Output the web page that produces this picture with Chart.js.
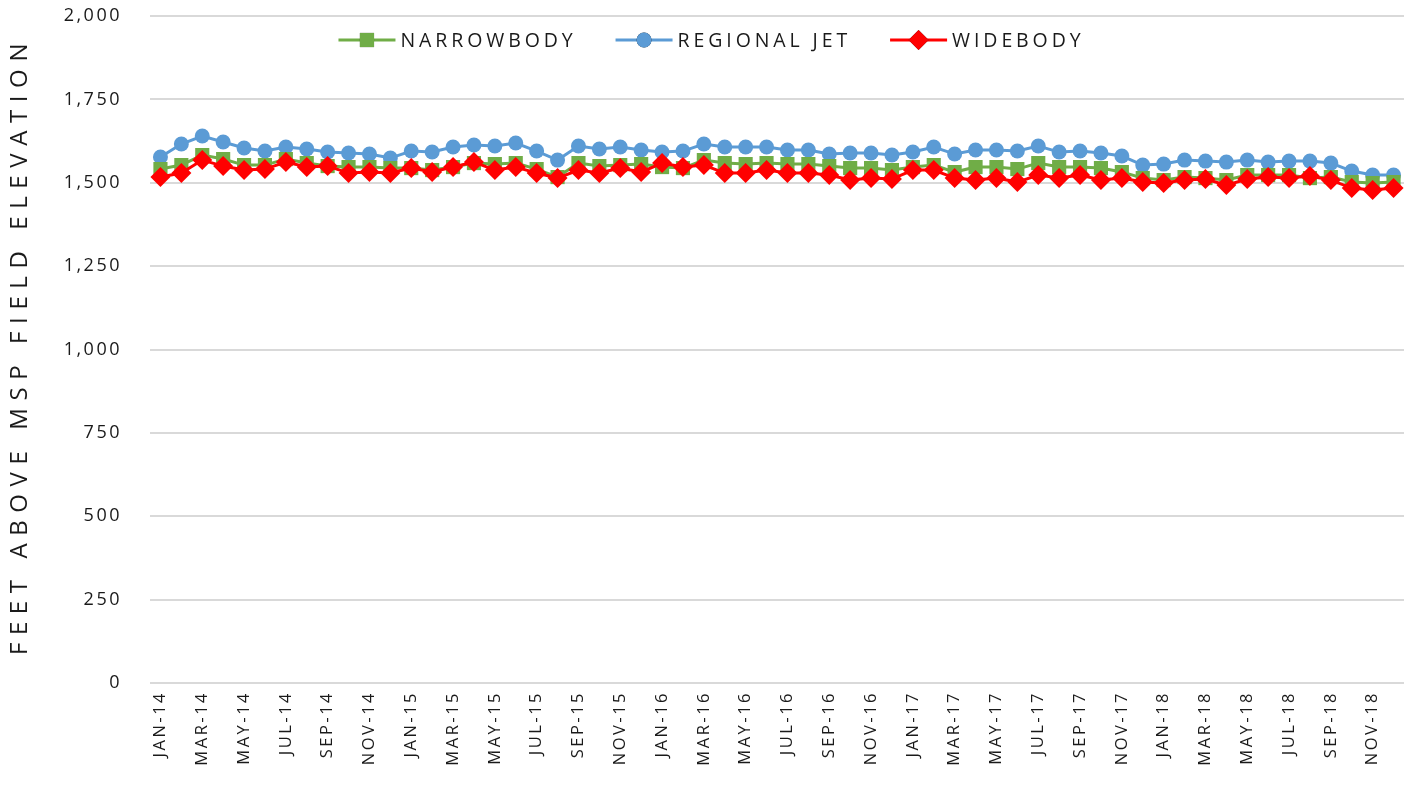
<!DOCTYPE html>
<html>
<head>
<meta charset="utf-8">
<script src="https://cdn.jsdelivr.net/npm/chart.js@4.4.1/dist/chart.umd.min.js"></script>
<style>
  html, body { margin: 0; padding: 0; background: #fff; }
  #wrap { width: 1411px; height: 797px; position: relative; }
</style>
</head>
<body>
<div id="wrap"><canvas id="chart" width="1411" height="797"></canvas></div>
<script>
// months x years -> JAN-14 ... DEC-18
const monthNames = ['JAN', 'FEB', 'MAR', 'APR', 'MAY', 'JUN', 'JUL', 'AUG', 'SEP', 'OCT', 'NOV', 'DEC'];
const years = ['14', '15', '16', '17', '18'];
const categories = [];
years.forEach(y => monthNames.forEach(m => categories.push(`${m}-${y}`)));

const seriesNames = ['NARROWBODY', 'REGIONAL JET', 'WIDEBODY'];
const yTitle = 'FEET ABOVE MSP FIELD ELEVATION';

const narrowbody = [
  1541, 1553, 1583, 1571, 1553, 1553, 1571, 1559, 1550, 1547, 1547, 1544,
  1544, 1538, 1547, 1559, 1556, 1559, 1541, 1517, 1559, 1550, 1553, 1556,
  1547, 1544, 1568, 1559, 1556, 1559, 1556, 1556, 1550, 1544, 1544, 1538,
  1547, 1553, 1532, 1547, 1547, 1541, 1559, 1547, 1547, 1544, 1532, 1514,
  1508, 1517, 1514, 1508, 1523, 1523, 1523, 1514, 1517, 1502, 1499, 1502
];
const regionalJet = [
  1577, 1616, 1640, 1622, 1604, 1595, 1607, 1601, 1592, 1589, 1586, 1574,
  1595, 1592, 1607, 1613, 1610, 1619, 1595, 1568, 1610, 1601, 1607, 1598,
  1592, 1595, 1616, 1607, 1607, 1607, 1598, 1598, 1586, 1589, 1589, 1583,
  1592, 1607, 1586, 1598, 1598, 1595, 1610, 1592, 1595, 1589, 1580, 1553,
  1556, 1568, 1565, 1562, 1568, 1562, 1565, 1565, 1559, 1535, 1523, 1523
];
const widebody = [
  1517, 1529, 1568, 1550, 1538, 1541, 1562, 1547, 1550, 1529, 1532, 1529,
  1544, 1532, 1547, 1562, 1538, 1547, 1529, 1514, 1538, 1529, 1544, 1532,
  1559, 1547, 1553, 1529, 1529, 1538, 1529, 1529, 1523, 1508, 1514, 1511,
  1538, 1538, 1514, 1508, 1514, 1502, 1523, 1514, 1523, 1508, 1514, 1502,
  1499, 1508, 1511, 1493, 1511, 1517, 1514, 1520, 1508, 1484, 1478, 1484
];

const yTicks = [0, 250, 500, 750, 1000, 1250, 1500, 1750, 2000];

const FONT = "'Open Sans', sans-serif";
const TEXT = '#1a1a1a';
const TICK_SPACING = '2.5px';

// canvas letter spacing for tick labels (Chart.js has no option for it)
const spacingPlugin = {
  id: 'spacing',
  beforeUpdate: chart => { chart.ctx.letterSpacing = TICK_SPACING; },
  beforeLayout: chart => { chart.ctx.letterSpacing = TICK_SPACING; },
  beforeDraw: chart => { chart.ctx.letterSpacing = TICK_SPACING; }
};

// rotated axis title with wide spacing
const titlePlugin = {
  id: 'yTitle',
  afterDraw: chart => {
    const ctx = chart.ctx;
    const area = chart.chartArea;
    ctx.save();
    ctx.letterSpacing = '7.6px';
    ctx.font = `24px ${FONT}`;
    ctx.fillStyle = TEXT;
    ctx.textAlign = 'center';
    ctx.textBaseline = 'middle';
    ctx.translate(20, (area.top + area.bottom) / 2);
    ctx.rotate(-Math.PI / 2);
    ctx.fillText(yTitle, 4, 0);
    ctx.restore();
  }
};

// legend drawn over the top of the plot: line + marker + label
const legendPlugin = {
  id: 'lineLegend',
  afterDraw: chart => {
    const ctx = chart.ctx;
    const lineLen = 57;
    const gap = 5;
    const itemGap = 39;
    const y = 40;
    ctx.save();
    ctx.letterSpacing = '3.9px';
    ctx.font = `19.5px ${FONT}`;
    const items = chart.data.datasets.map(ds => ({
      ds,
      w: lineLen + gap + ctx.measureText(ds.label).width
    }));
    const total = items.reduce((s, it) => s + it.w, 0) + itemGap * (items.length - 1);
    let x = chart.width / 2 + 6 - total / 2;
    items.forEach(it => {
      const ds = it.ds;
      ctx.strokeStyle = ds.borderColor;
      ctx.lineWidth = 3;
      ctx.beginPath();
      ctx.moveTo(x, y);
      ctx.lineTo(x + lineLen, y);
      ctx.stroke();
      Chart.helpers.drawPoint(ctx, {
        pointStyle: ds.pointStyle,
        radius: ds.pointRadius,
        borderWidth: 0
      }, x + lineLen / 2, y);
      ctx.fillStyle = ds.pointBackgroundColor;
      ctx.fill();
      ctx.fillStyle = TEXT;
      ctx.textBaseline = 'middle';
      ctx.textAlign = 'left';
      ctx.fillText(ds.label, x + lineLen + gap, y + 1);
      x += it.w + itemGap;
    });
    ctx.restore();
  }
};

const makeSet = (label, data, color, style, radius, order) => ({
  label,
  data,
  borderColor: color,
  backgroundColor: color,
  pointBackgroundColor: color,
  pointBorderColor: color,
  pointBorderWidth: 0,
  borderWidth: 3,
  pointStyle: style,
  pointRadius: radius,
  pointHoverRadius: radius,
  tension: 0,
  order
});

new Chart(document.getElementById('chart'), {
  type: 'line',
  data: {
    labels: categories,
    datasets: [
      makeSet(seriesNames[0], narrowbody, '#70AD47', 'rect', 10, 1),
      makeSet(seriesNames[1], regionalJet, '#5B9BD5', 'circle', 7.5, 2),
      makeSet(seriesNames[2], widebody, '#FF0000', 'rectRot', 10, 0)
    ]
  },
  options: {
    responsive: false,
    animation: false,
    layout: { autoPadding: false, padding: { top: 16, right: 7, left: 0, bottom: 0 } },
    plugins: {
      legend: { display: false },
      tooltip: { enabled: false }
    },
    scales: {
      x: {
        offset: true,
        grid: { display: false, drawTicks: false },
        border: { display: false },
        afterFit: scale => {
          scale.height = 114;
          scale.paddingLeft = 0;
          scale.paddingRight = 0;
        },
        ticks: {
          autoSkip: false,
          minRotation: 90,
          maxRotation: 90,
          padding: 8,
          color: TEXT,
          font: { family: FONT, size: 16.5 },
          callback: function (value, index) {
            return index % 2 === 0 ? this.getLabelForValue(value) : '';
          }
        }
      },
      y: {
        min: 0,
        max: 2000,
        afterBuildTicks: scale => { scale.ticks = yTicks.map(v => ({ value: v })); },
        afterFit: scale => {
          scale.width = 150;
          scale.paddingTop = 0;
          scale.paddingBottom = 0;
        },
        grid: { color: '#d9d9d9', lineWidth: 2, drawTicks: false },
        border: { display: false },
        ticks: {
          padding: 28,
          color: TEXT,
          font: { family: FONT, size: 18 },
          callback: v => v.toLocaleString('en-US')
        }
      }
    }
  },
  plugins: [spacingPlugin, titlePlugin, legendPlugin]
});
</script>
</body>
</html>
